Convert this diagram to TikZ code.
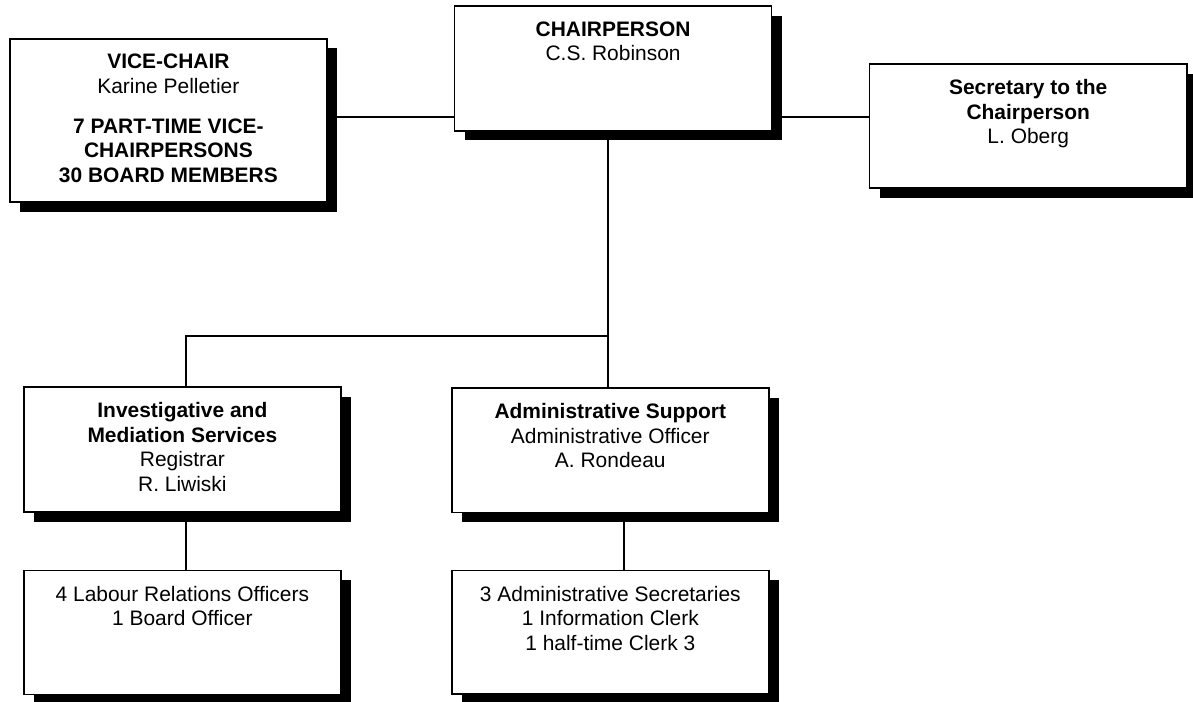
\documentclass[tikz,border=0pt]{standalone}
\usepackage{fontspec}
\setmainfont{Liberation Sans}
\usetikzlibrary{positioning,shadows,backgrounds}

\begin{document}
\begin{tikzpicture}[
    box/.style={draw, fill=white, line width=1.1pt, inner sep=0pt,
                minimum width=7.93cm, minimum height=3.12cm,
                drop shadow={shadow xshift=0.25cm, shadow yshift=-0.24cm, opacity=1, fill=black}},
    txt/.style={align=center, inner sep=0pt, font=\fontsize{14.9}{17.4}\selectfont},
    link/.style={line width=1.1pt}
]
            \useasboundingbox (0.00, 0.00) rectangle (29.83, 17.55);
            % boxes
            \node[box, minimum height=4.08cm] (vice)   at ( 4.21, 14.54) {};
            \node[box]                        (chair)  at (15.33, 15.84) {};
            \node[box, minimum height=3.10cm] (sec)    at (25.71, 14.40) {};
            \node[box]                        (invest) at ( 4.56,  6.31) {};
            \node[box]                        (admin)  at (15.26,  6.29) {};
            \node[box, minimum height=3.10cm] (labour) at ( 4.56,  1.73) {};
            \node[box, minimum height=3.08cm] (staff)  at (15.26,  1.74) {};
            % texts
            \node[txt, below=0.40cm of vice.north]   (vicetext)   {\textbf{VICE-CHAIR}\\Karine Pelletier\\[11pt]\textbf{7 PART-TIME VICE-}\\\textbf{CHAIRPERSONS}\\\textbf{30 BOARD MEMBERS}};
            \node[txt, below=0.40cm of chair.north]  (chairtext)  {\textbf{CHAIRPERSON}\\C.S. Robinson};
            \node[txt, below=0.40cm of sec.north]    (sectext)    {\textbf{Secretary to the}\\\textbf{Chairperson}\\L. Oberg};
            \node[txt, below=0.40cm of invest.north] (investtext) {\textbf{Investigative and}\\\textbf{Mediation Services}\\Registrar\\R. Liwiski};
            \node[txt, below=0.40cm of admin.north]  (admintext)  {\textbf{Administrative Support}\\Administrative Officer\\A. Rondeau};
            \node[txt, below=0.40cm of labour.north] (labourtext) {4 Labour Relations Officers\\1 Board Officer};
            \node[txt, below=0.40cm of staff.north]  (stafftext)  {3 Administrative Secretaries\\1 Information Clerk\\1 half-time Clerk 3};
            % connectors
            \coordinate (split) at (15.20,  9.15);
            \coordinate (tie)   at ( 0.00, 14.63);
            \begin{scope}[on background layer]
                \draw[link] (vice.east |- tie) -- (chair.west |- tie);
                \draw[link] (chair.east |- tie) -- (sec.west |- tie);
                \draw[link] (split |- chair.south) -- (split |- admin.north);
                \draw[link] (split) -| ([xshift=0.09cm]invest.north);
                \draw[link] ([xshift=0.09cm]invest.south) -- ([xshift=0.09cm]labour.north);
                \draw[link] ([xshift=0.34cm]admin.south) -- ([xshift=0.34cm]staff.north);
            \end{scope}
        \end{tikzpicture}
\end{document}
